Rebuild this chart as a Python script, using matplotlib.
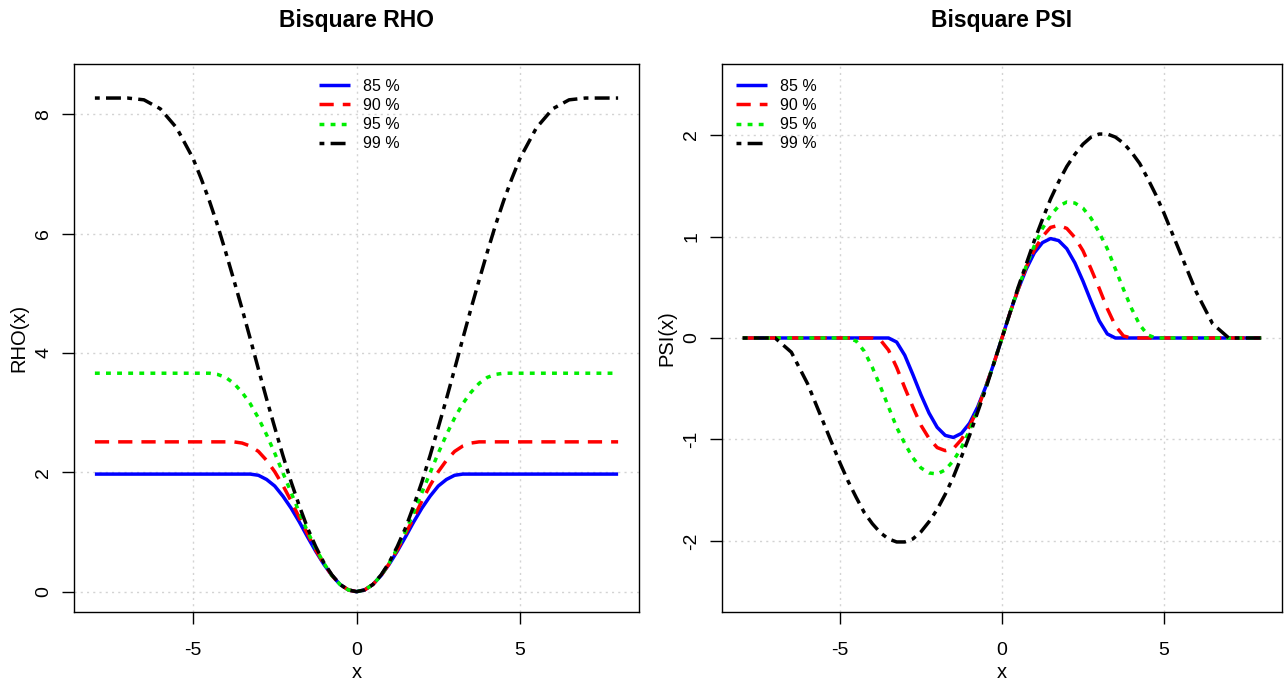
import matplotlib.pyplot as plt

plt.rcParams['font.family'] = ['Liberation Sans', 'DejaVu Sans']
plt.rcParams['axes.unicode_minus'] = False

# values
x = [-8, -7.5, -7, -6.5, -6, -5.5,
     -5, -4.75, -4.5, -4.25, -4, -3.75, -3.5, -3.25, -3, -2.75,
     -2.5, -2.25, -2, -1.75, -1.5, -1.25, -1, -0.75, -0.5, -0.25,
     0,
     0.25, 0.5, 0.75, 1, 1.25, 1.5, 1.75, 2, 2.25, 2.5,
     2.75, 3, 3.25, 3.5, 3.75, 4, 4.25, 4.5, 4.75, 5,
     5.5, 6, 6.5, 7, 7.5, 8]

labels = ['85 %', '90 %', '95 %', '99 %']

rho85 = [1.97, 1.97, 1.97, 1.97, 1.97, 1.97,
         1.97, 1.97, 1.97, 1.97, 1.97, 1.97, 1.97, 1.97, 1.95, 1.88,
         1.77, 1.60, 1.40, 1.17, 0.92, 0.68, 0.46, 0.27, 0.12, 0.03,
         0.00,
         0.03, 0.12, 0.27, 0.46, 0.68, 0.92, 1.17, 1.40, 1.60, 1.77,
         1.88, 1.95, 1.97, 1.97, 1.97, 1.97, 1.97, 1.97, 1.97, 1.97,
         1.97, 1.97, 1.97, 1.97, 1.97, 1.97]
rho90 = [2.51, 2.51, 2.51, 2.51, 2.51, 2.51,
         2.51, 2.51, 2.51, 2.51, 2.51, 2.51, 2.49, 2.44, 2.35, 2.20,
         2.01, 1.78, 1.52, 1.24, 0.97, 0.70, 0.47, 0.27, 0.12, 0.03,
         0.00,
         0.03, 0.12, 0.27, 0.47, 0.70, 0.97, 1.24, 1.52, 1.78, 2.01,
         2.20, 2.35, 2.44, 2.49, 2.51, 2.51, 2.51, 2.51, 2.51, 2.51,
         2.51, 2.51, 2.51, 2.51, 2.51, 2.51]
rho95 = [3.66, 3.66, 3.66, 3.66, 3.66, 3.66,
         3.66, 3.66, 3.66, 3.64, 3.59, 3.49, 3.34, 3.15, 2.91, 2.63,
         2.32, 1.99, 1.66, 1.33, 1.01, 0.73, 0.48, 0.27, 0.12, 0.03,
         0.00,
         0.03, 0.12, 0.27, 0.48, 0.73, 1.01, 1.33, 1.66, 1.99, 2.32,
         2.63, 2.91, 3.15, 3.34, 3.49, 3.59, 3.64, 3.66, 3.66, 3.66,
         3.66, 3.66, 3.66, 3.66, 3.66, 3.66]
rho99 = [8.27, 8.27, 8.27, 8.24, 8.09, 7.77,
         7.26, 6.92, 6.55, 6.14, 5.69, 5.22, 4.74, 4.24, 3.73, 3.23,
         2.75, 2.28, 1.84, 1.44, 1.07, 0.76, 0.49, 0.28, 0.12, 0.03,
         0.00,
         0.03, 0.12, 0.28, 0.49, 0.76, 1.07, 1.44, 1.84, 2.28, 2.75,
         3.23, 3.73, 4.24, 4.74, 5.22, 5.69, 6.14, 6.55, 6.92, 7.26,
         7.77, 8.09, 8.24, 8.27, 8.27, 8.27]

psi85 = [0, 0, 0, 0, 0, 0,
         0, 0, 0, 0, 0, 0, 0, -0.04, -0.17, -0.36,
         -0.56, -0.74, -0.88, -0.96, -0.98, -0.94, -0.84, -0.68, -0.48, -0.25,
         0.00,
         0.25, 0.48, 0.68, 0.84, 0.94, 0.98, 0.96, 0.88, 0.74, 0.56,
         0.36, 0.17, 0.04, 0, 0, 0, 0, 0, 0, 0,
         0, 0, 0, 0, 0, 0]
psi90 = [0, 0, 0, 0, 0, 0,
         0, 0, 0, 0, 0, -0.02, -0.12, -0.29, -0.49, -0.68,
         -0.86, -0.99, -1.08, -1.11, -1.09, -1.00, -0.87, -0.70, -0.48, -0.25,
         0.00,
         0.25, 0.48, 0.70, 0.87, 1.00, 1.09, 1.11, 1.08, 0.99, 0.86,
         0.68, 0.49, 0.29, 0.12, 0.02, 0, 0, 0, 0, 0,
         0, 0, 0, 0, 0, 0]
psi95 = [0, 0, 0, 0, 0, 0,
         0, 0, -0.03, -0.13, -0.29, -0.48, -0.68, -0.88, -1.04, -1.18,
         -1.28, -1.33, -1.34, -1.30, -1.21, -1.08, -0.91, -0.71, -0.49, -0.25,
         0.00,
         0.25, 0.49, 0.71, 0.91, 1.08, 1.21, 1.30, 1.34, 1.33, 1.28,
         1.18, 1.04, 0.88, 0.68, 0.48, 0.29, 0.13, 0.03, 0, 0,
         0, 0, 0, 0, 0, 0]
psi99 = [0, 0, 0, -0.14, -0.45, -0.84,
         -1.23, -1.41, -1.57, -1.72, -1.83, -1.92, -1.98, -2.01, -2.01, -1.98,
         -1.91, -1.81, -1.69, -1.54, -1.37, -1.17, -0.96, -0.73, -0.50, -0.25,
         0.00,
         0.25, 0.50, 0.73, 0.96, 1.17, 1.37, 1.54, 1.69, 1.81, 1.91,
         1.98, 2.01, 2.01, 1.98, 1.92, 1.83, 1.72, 1.57, 1.41, 1.23,
         0.84, 0.45, 0.14, 0, 0, 0]

colors = ['#0000ff', '#ff0000', '#00ee00', '#000000']
dashes = [None, (4.1, 2.6), (1.4, 1.8), (1.4, 1.8, 4.3, 1.8)]


def draw(ax, series, title, ylabel, yticks, ylim, legend_x):
    for y, c, d, lab in zip(series, colors, dashes, labels):
        line, = ax.plot(x, y, color=c, lw=2.5, label=lab,
                        dash_capstyle='butt', solid_capstyle='butt')
        if d is not None:
            line.set_dashes(d)
    ax.set_xlim(-8.64, 8.64)
    ax.set_ylim(*ylim)
    ax.set_xticks([-5, 0, 5])
    ax.set_yticks(yticks)
    ax.set_yticklabels([str(t) for t in yticks], rotation=90, va='center')
    ax.grid(True, color='#d3d3d3', linestyle=(0, (1.5, 3)), lw=1)
    ax.tick_params(labelsize=14, length=8.5, width=1)
    ax.tick_params(axis='x', pad=13)
    ax.tick_params(axis='y', pad=7)
    for s in ax.spines.values():
        s.set_linewidth(1)
    ax.set_title(title, fontsize=16.5, fontweight='bold', pad=27)
    ax.set_xlabel('x', fontsize=14.5, labelpad=3)
    ax.set_ylabel(ylabel, fontsize=14.5, labelpad=5)
    ax.legend(loc='upper left', bbox_to_anchor=(legend_x, 0.973), frameon=False,
              fontsize=11.5, handlelength=1.95, handletextpad=0.8,
              labelspacing=0.26, borderaxespad=0, borderpad=0)


fig = plt.figure(figsize=(12.84, 6.84), dpi=100)
ax1 = fig.add_axes([0.0576, 0.1053, 0.4401, 0.8011])
ax2 = fig.add_axes([0.5623, 0.1053, 0.4361, 0.8011])

draw(ax1, [rho85, rho90, rho95, rho99], 'Bisquare RHO', 'RHO(x)',
     [0, 2, 4, 6, 8], (-0.34, 8.84), 0.434)
draw(ax2, [psi85, psi90, psi95, psi99], 'Bisquare PSI', 'PSI(x)',
     [-2, -1, 0, 1, 2], (-2.7, 2.7), 0.025)

fig.savefig('out.png', dpi=100)
